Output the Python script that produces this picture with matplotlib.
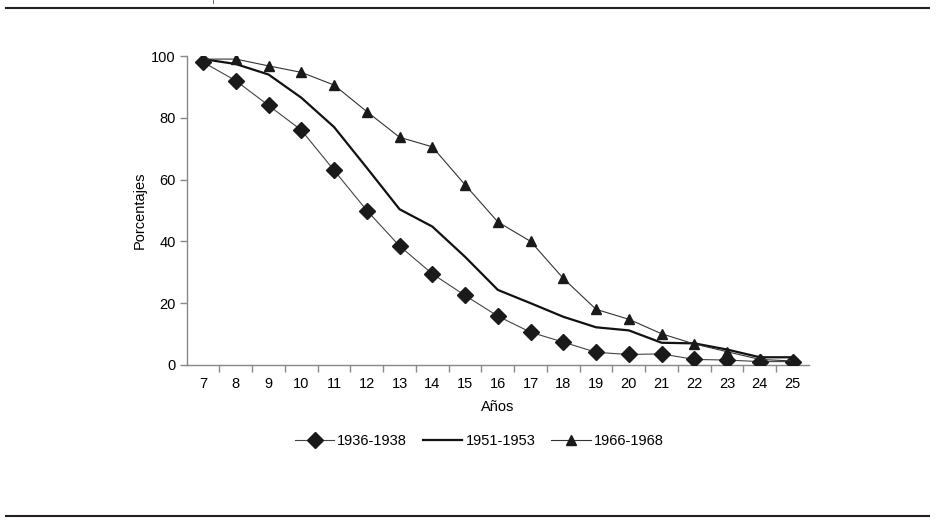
import matplotlib.pyplot as plt
from matplotlib.lines import Line2D

plt.rcParams['font.family'] = ['Liberation Sans', 'DejaVu Sans']

edades = [7, 8, 9, 10, 11, 12, 13, 14, 15, 16, 17, 18, 19, 20, 21, 22, 23, 24, 25]
# porcentajes por cohorte
c1936 = [98, 92, 84, 76, 63, 50, 38.5, 29.5, 22.5, 15.8, 10.6, 7.4, 4.1, 3.4, 3.6, 1.8, 1.6, 1.1, 1.1]
c1951 = [99, 97.4, 94, 86.5, 77, 63.8, 50.4, 44.8, 35, 24.3, 20, 15.6, 12.2, 11.2, 7.2, 7, 5, 2.5, 2.5]
c1966 = [99, 99, 96.8, 94.7, 90.6, 82, 73.7, 70.6, 58.3, 46.3, 40, 28, 18, 14.8, 10.1, 6.8, 4.3, 1.8, 1.3]

fig = plt.figure(figsize=(9.43, 5.23), dpi=100)
ax = fig.add_axes([186.7 / 943, 1 - 365 / 523, (809 - 186.7) / 943, (365 - 56) / 523])

x = range(len(edades))
ax.plot(x, c1936, color='#444444', lw=0.8, marker='D', markersize=8.5,
        markerfacecolor='#1a1a1a', markeredgecolor='#1a1a1a', label='1936-1938', zorder=3)
ax.plot(x, c1951, color='#111111', lw=1.6, label='1951-1953', zorder=2)
ax.plot(x, c1966, color='#333333', lw=0.8, marker='^', markersize=7,
        markerfacecolor='#1a1a1a', markeredgecolor='#1a1a1a', label='1966-1968', zorder=3)

ax.set_xlim(-0.5, len(edades) - 0.5)
ax.set_ylim(0, 100)
ax.set_yticks([0, 20, 40, 60, 80, 100])
ax.set_xticks(list(x))
ax.set_xticklabels([str(e) for e in edades])
ax.set_xticks([i + 0.5 for i in range(len(edades) - 1)], minor=True)
ax.tick_params(axis='x', which='major', length=0, pad=9, labelsize=10.5)
ax.tick_params(axis='x', which='minor', length=5, width=1, color='#888888')
ax.tick_params(axis='y', length=5, width=1, color='#888888', pad=3, labelsize=10.5)

for s in ['top', 'right']:
    ax.spines[s].set_visible(False)
for s in ['left', 'bottom']:
    ax.spines[s].set_color('#888888')
    ax.spines[s].set_linewidth(1)

ax.set_xlabel('Años', fontsize=10.5, labelpad=6)
ax.set_ylabel('Porcentajes', fontsize=10.5, labelpad=3)

ax.legend(loc='upper center', bbox_to_anchor=(0.47, -0.18), ncol=3, frameon=False,
          fontsize=10.5, handlelength=2.7, columnspacing=1.1, handletextpad=0.2)

# lineas horizontales del marco
fig.add_artist(Line2D([6 / 943, 929 / 943], [1 - 8 / 523, 1 - 8 / 523], color='#231f20', lw=1.5))
fig.add_artist(Line2D([6 / 943, 929 / 943], [1 - 516 / 523, 1 - 516 / 523], color='#231f20', lw=1.5))
fig.add_artist(Line2D([213 / 943, 213 / 943], [1, 1 - 3 / 523], color='#231f20', lw=0.5))

fig.savefig('out.png', dpi=100)
